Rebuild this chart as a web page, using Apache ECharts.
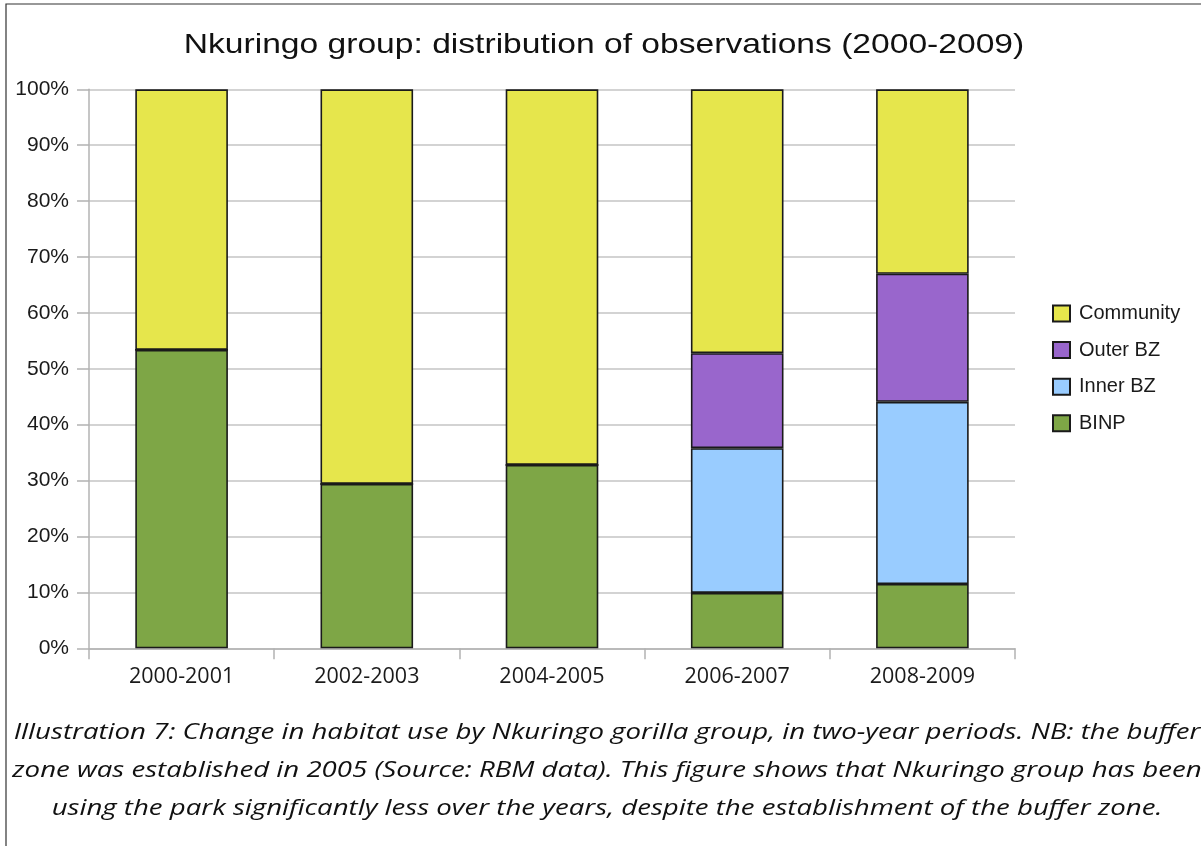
<!DOCTYPE html>
<html>
<head>
<meta charset="utf-8">
<script src="https://cdn.jsdelivr.net/npm/echarts@6/dist/echarts.min.js"></script>
<style>
  html, body { margin: 0; padding: 0; background: #fff; }
  #chart { width: 1201px; height: 846px; }
</style>
</head>
<body>
<div id="chart"></div>
<script>
// Two-year observation periods
const periods = ['2000-2001', '2002-2003', '2004-2005', '2006-2007', '2008-2009'];

// Share of observations per habitat zone (%)
const binp      = [53.4, 29.4, 32.8, 9.9, 11.5];
const innerBZ   = [0, 0, 0, 25.9, 32.6];
const outerBZ   = [0, 0, 0, 17.0, 22.9];
const community = [46.6, 70.6, 67.2, 47.2, 33.0];

const yTicks = [0, 10, 20, 30, 40, 50, 60, 70, 80, 90, 100];

const titleText = 'Nkuringo group: distribution of observations (2000-2009)';

const captionLines = [
  'Illustration 7: Change in habitat use by Nkuringo gorilla group, in two-year periods. NB: the buffer',
  'zone was established in 2005 (Source: RBM data). This figure shows that Nkuringo group has been',
  'using the park significantly less over the years, despite the establishment of the buffer zone.'
];

const chart = echarts.init(document.getElementById('chart'), null, { renderer: 'canvas' });

function stack(name, data, color) {
  return {
    name: name,
    type: 'bar',
    stack: 'total',
    barWidth: '50%',
    data: data,
    itemStyle: { color: color, borderColor: '#1a1a1a', borderWidth: 1.6 },
    emphasis: { disabled: true }
  };
}

// Wide-set text drawn as graphic elements so it can be stretched horizontally
function wideText(text, cx, cy, font, size, style, sx) {
  return {
    type: 'text',
    x: cx,
    y: cy,
    scaleX: sx,
    silent: true,
    style: {
      text: text,
      fontFamily: font,
      fontSize: size,
      fontStyle: style,
      fill: '#111',
      align: 'center',
      verticalAlign: 'middle'
    }
  };
}

chart.setOption({
  animation: false,
  legend: {
    orient: 'vertical',
    left: 1052,
    top: 303.5,
    padding: 0,
    itemWidth: 17,
    itemHeight: 16,
    itemGap: 16.6,
    data: ['Community', 'Outer BZ', 'Inner BZ', 'BINP'],
    textStyle: { fontFamily: 'Liberation Sans', fontSize: 20, color: '#1a1a1a', padding: [0, 0, 0, 4] },
    icon: 'rect'
  },
  grid: { left: 89, top: 89.3, width: 926, height: 559, containLabel: false },
  xAxis: {
    type: 'category',
    data: periods,
    axisLine: { lineStyle: { color: '#b3b3b3', width: 1.5 } },
    axisTick: { show: true, length: 11, lineStyle: { color: '#b3b3b3', width: 1.5 } },
    axisLabel: { fontFamily: 'Open Sans', fontSize: 21.5, color: '#1a1a1a', margin: 18 }
  },
  yAxis: {
    type: 'value',
    min: 0,
    max: 100,
    interval: 10,
    axisLine: { show: true, lineStyle: { color: '#b3b3b3', width: 1.5 } },
    axisTick: { show: true, length: 12, lineStyle: { color: '#b3b3b3', width: 1.5 } },
    splitLine: { lineStyle: { color: '#c4c4c4', width: 1.5 } },
    axisLabel: {
      fontFamily: 'Liberation Sans', fontSize: 21, color: '#1a1a1a', margin: 20,
      formatter: (v) => (yTicks.indexOf(v) >= 0 ? v + '%' : '')
    }
  },
  series: [
    stack('BINP', binp, '#7ea646'),
    stack('Inner BZ', innerBZ, '#99ccff'),
    stack('Outer BZ', outerBZ, '#9966cc'),
    stack('Community', community, '#e6e64c')
  ],
  graphic: [
    {
      type: 'rect',
      shape: { x: 6, y: 4, width: 1210, height: 860 },
      style: { fill: 'none', stroke: '#333', lineWidth: 1.2 },
      silent: true
    },
    wideText(titleText, 604, 45, 'Liberation Sans', 28, 'normal', 1.2)
  ].concat(captionLines.map((line, i) =>
    wideText(line, 607, 733 + i * 37.8, 'Open Sans', 22, 'italic', 1.255)
  ))
});
</script>
</body>
</html>
